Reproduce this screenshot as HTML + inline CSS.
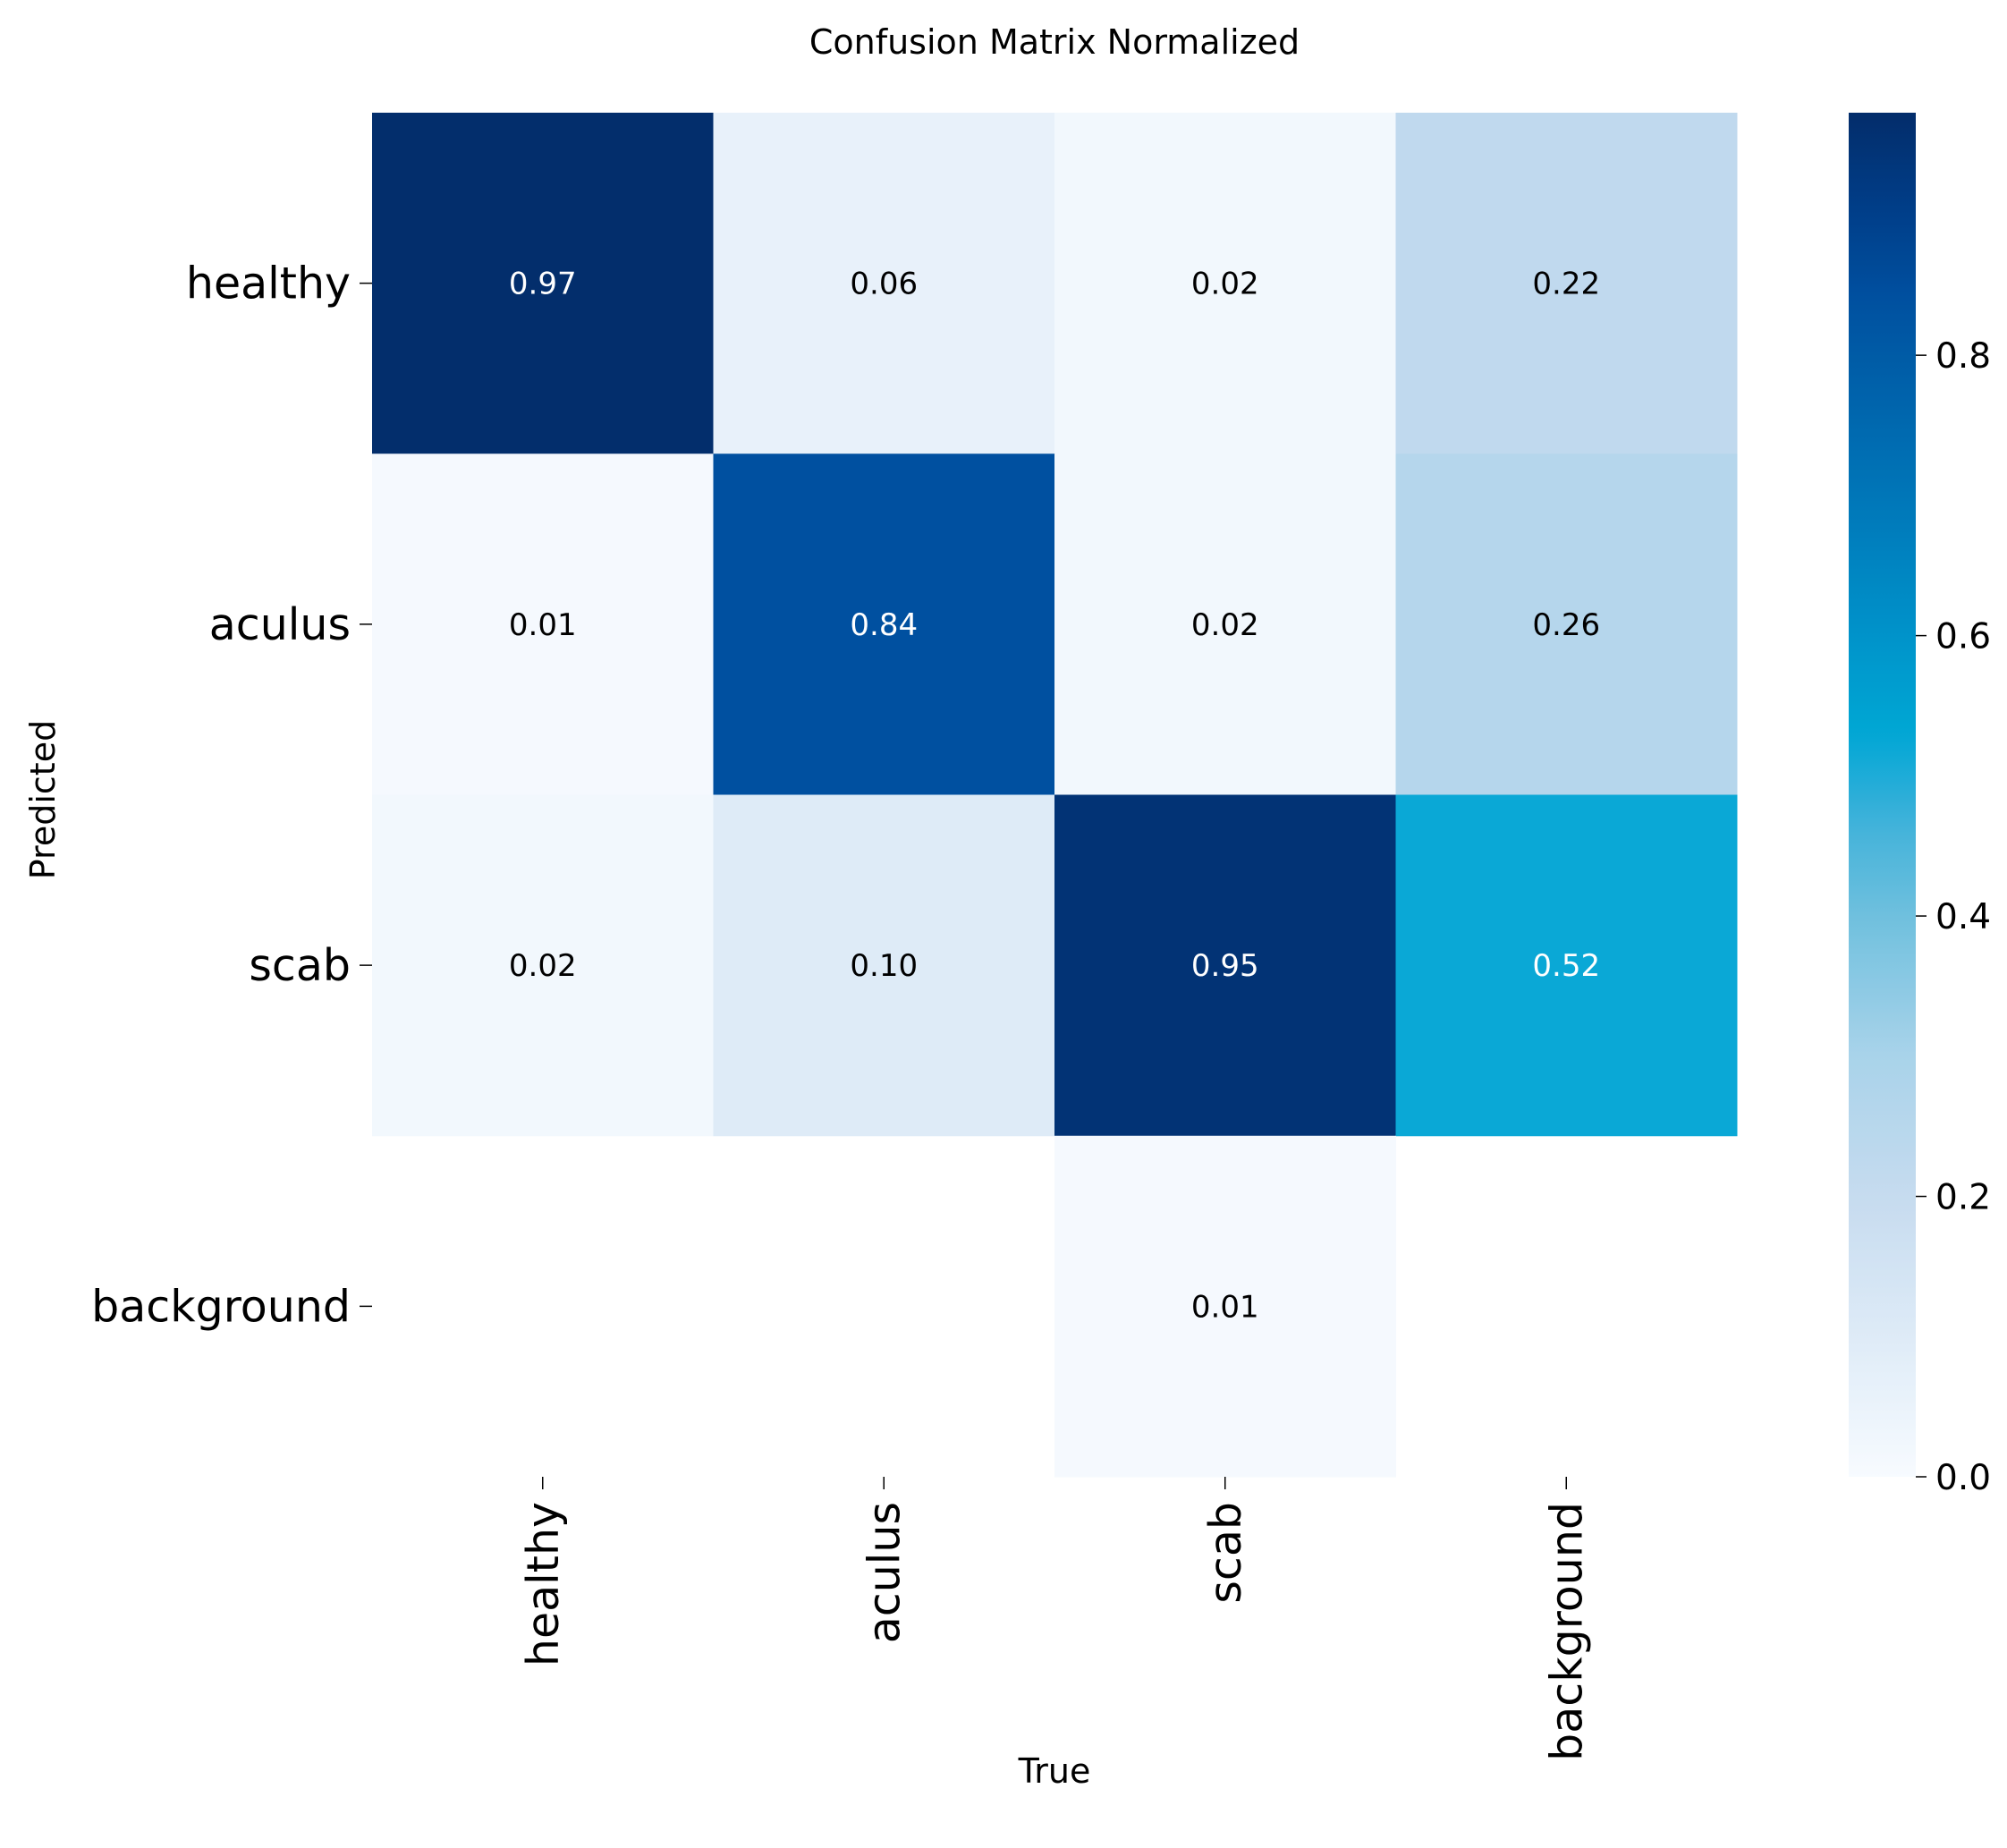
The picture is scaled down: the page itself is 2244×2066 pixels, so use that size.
<!DOCTYPE html>
<html><head><meta charset="utf-8"><style>
html,body{margin:0;padding:0;background:#fff;}
svg{display:block;font-family:"DejaVu Sans","Liberation Sans",sans-serif;}
</style></head><body>
<svg id="chart" width="2244" height="2066" viewBox="0 0 2244 2066" xmlns="http://www.w3.org/2000/svg">
<defs>
<linearGradient id="cbgrad" x1="0" y1="1" x2="0" y2="0"></linearGradient>
</defs>
<text x="1179" y="60" font-size="38" text-anchor="middle" fill="#000">Confusion Matrix Normalized</text>
<g id="cells"></g>
<g id="yaxis"></g>
<g id="xaxis"></g>
<g id="cbar"></g>
<text x="1179" y="1993" font-size="38" text-anchor="middle" fill="#000">True</text>
<text transform="translate(61,894) rotate(-90)" font-size="38" text-anchor="middle" fill="#000">Predicted</text>
</svg>
<script>
const trueLabels = ["healthy","aculus","scab","background"];
const predLabels = ["healthy","aculus","scab","background"];
const rowHealthy = [0.97,0.06,0.02,0.22];
const rowAculus = [0.01,0.84,0.02,0.26];
const rowScab = [0.02,0.10,0.95,0.52];
const rowBackground = [0,0,0.01,0];
const cbTicks = [0.0,0.2,0.4,0.6,0.8];
const vmax = 0.973;

const NS="http://www.w3.org/2000/svg";
const L=416,R=1942,T=126,B=1651;
const cw=(R-L)/trueLabels.length, ch=(B-T)/predLabels.length;
const xPos=i=>L+i*cw, yPos=j=>T+j*ch;
const stops=[[0,"#f7fbff"],[0.1,"#deebf7"],[0.2,"#c6dbef"],[0.3,"#a9d3ea"],[0.4,"#6fc0de"],[0.46,"#45b3da"],[0.52,"#0aa8d6"],[0.535,"#00a6d3"],[0.6,"#0093ca"],[0.7,"#0076b8"],[0.8,"#005ba6"],[0.84,"#0050a0"],[0.9,"#003f8a"],[0.973,"#032d6b"]];
function hex(h){return [1,3,5].map(k=>parseInt(h.substr(k,2),16));}
function color(v){
  if(v<=stops[0][0])return stops[0][1];
  for(let k=1;k<stops.length;k++){
    if(v<=stops[k][0]){
      const a=stops[k-1],b=stops[k],t=(v-a[0])/(b[0]-a[0]);
      const ca=hex(a[1]),cb=hex(b[1]);
      return "rgb("+ca.map((c,i)=>Math.round(c+(cb[i]-c)*t)).join(",")+")";
    }
  }
  return stops[stops.length-1][1];
}
function mk(tag,attrs,parent){const e=document.createElementNS(NS,tag);for(const k in attrs)e.setAttribute(k,attrs[k]);parent.appendChild(e);return e;}
const rows=[rowHealthy,rowAculus,rowScab,rowBackground];
const cells=document.getElementById("cells");
rows.forEach((row,j)=>row.forEach((v,i)=>{
  if(v<=0)return;
  const r=mk("rect",{x:xPos(i),y:yPos(j),width:cw+0.5,height:ch+0.5,fill:color(v)},cells);
  
  
  const t=mk("text",{x:xPos(i)+cw/2,y:yPos(j)+ch/2+12,"font-size":"34","text-anchor":"middle",fill:v>0.5?"#fff":"#000"},cells);
  t.textContent=v.toFixed(2);
  
  
}));
const ya=document.getElementById("yaxis");
predLabels.forEach((lab,j)=>{
  const y=yPos(j)+ch/2;
  const tk=mk("line",{x1:L-14,x2:L,y1:y,y2:y,stroke:"#000","stroke-width":"1.5"},ya);
  
  
  const t=mk("text",{x:L-24,y:y+17,"font-size":"49","text-anchor":"end",fill:"#000"},ya);
  t.textContent=lab;
  
  
});
const xa=document.getElementById("xaxis");
trueLabels.forEach((lab,i)=>{
  const x=xPos(i)+cw/2;
  const tk=mk("line",{x1:x,x2:x,y1:B,y2:B+14,stroke:"#000","stroke-width":"1.5"},xa);
  
  
  const t=mk("text",{transform:"translate("+(x+17)+","+(B+28)+") rotate(-90)","font-size":"49","text-anchor":"end",fill:"#000"},xa);
  t.textContent=lab;
  
  
});
const g=document.getElementById("cbgrad");
for(let k=0;k<=100;k++){const v=vmax*k/100;mk("stop",{offset:(k/100),"stop-color":color(v)},g);}
const cb=document.getElementById("cbar");
const CX=2067,CW=75;
const cr=mk("rect",{x:CX,y:T,width:CW,height:B-T,fill:"url(#cbgrad)"},cb);


const cy=v=>B-(v/vmax)*(B-T);
cbTicks.forEach(v=>{
  const y=cy(v);
  const tk=mk("line",{x1:CX+CW,x2:CX+CW+12,y1:y,y2:y,stroke:"#000","stroke-width":"1.5"},cb);
  
  
  const t=mk("text",{x:CX+CW+22,y:y+14,"font-size":"39",fill:"#000"},cb);
  t.textContent=v.toFixed(1);
  
  
});
</script>
</body></html>
